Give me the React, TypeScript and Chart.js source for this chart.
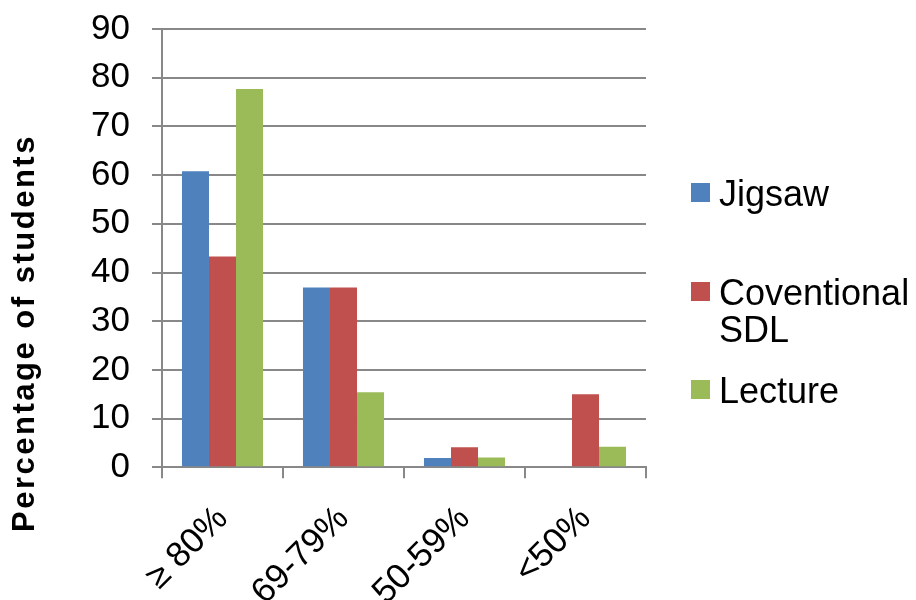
import React, { useEffect, useRef } from "react";
import { Chart, registerables } from "chart.js";

Chart.register(...registerables);

// Score bands and the share of students in each, per teaching method
const categories = ["≥ 80%", "69-79%", "50-59%", "<50%"];
const jigsaw = [60.8, 36.9, 1.9, 0];
const conventionalSdl = [43.3, 36.9, 4.1, 15.0];
const lecture = [77.7, 15.4, 2.0, 4.2];
const seriesLabels = [["Jigsaw"], ["Coventional", "SDL"], ["Lecture"]];
const seriesColors = ["#4F81BD", "#C0504D", "#9BBB59"];
const yTicks = [0, 10, 20, 30, 40, 50, 60, 70, 80, 90];
const yTitle = "Percentage of students";

const FONT = 'Arial, "Liberation Sans", sans-serif';
const GRID = "#888888";

// Draws the rotated y-axis title and the stacked legend to the right of the plot
const sidePlugin = {
  id: "sideDecor",
  afterDraw(chart: Chart) {
    const ctx = chart.ctx;
    const area = chart.chartArea;
    ctx.save();

    // y-axis title
    ctx.save();
    ctx.translate(34, 333);
    ctx.rotate(-Math.PI / 2);
    ctx.font = `bold 31px ${FONT}`;
    (ctx as any).letterSpacing = "2.5px";
    ctx.fillStyle = "#000";
    ctx.textAlign = "center";
    ctx.textBaseline = "alphabetic";
    ctx.fillText(yTitle, 0, 0);
    ctx.restore();

    // legend
    const boxX = area.right + 45;
    const textX = boxX + 28;
    const centers = [192.5, 291.5, 389.5];
    ctx.font = `36px ${FONT}`;
    ctx.textAlign = "left";
    ctx.textBaseline = "alphabetic";
    seriesLabels.forEach((lines, i) => {
      const cy = centers[i];
      ctx.fillStyle = seriesColors[i];
      ctx.fillRect(boxX, cy - 9.5, 19, 19);
      ctx.fillStyle = "#000";
      lines.forEach((line, j) => {
        ctx.fillText(line, textX, cy + 13 + j * 37);
      });
    });
    ctx.restore();
  },
};

export default function App() {
  const canvasRef = useRef<HTMLCanvasElement | null>(null);

  useEffect(() => {
    document.body.style.margin = "0";
    const canvas = canvasRef.current;
    if (!canvas) return;

    const values = [jigsaw, conventionalSdl, lecture];
    const chart = new Chart(canvas, {
      type: "bar",
      data: {
        labels: categories,
        datasets: values.map((data, i) => ({
          label: seriesLabels[i].join(" "),
          data,
          backgroundColor: seriesColors[i],
          borderWidth: 0,
          barPercentage: 1,
          categoryPercentage: 0.67,
        })),
      },
      options: {
        responsive: false,
        animation: false,
        layout: { padding: { left: 0, right: 270, top: 29, bottom: 0 } },
        plugins: {
          legend: { display: false },
          tooltip: { enabled: false },
          title: { display: false },
        },
        scales: {
          x: {
            grid: {
              display: true,
              drawOnChartArea: false,
              drawTicks: true,
              tickLength: 11,
              color: GRID,
              lineWidth: 2,
              offset: true,
            },
            border: { display: true, color: GRID, width: 2 },
            ticks: {
              font: { family: FONT, size: 35 },
              color: "#000",
              minRotation: 45,
              maxRotation: 45,
              padding: 20,
            },
            afterFit(scale: any) {
              scale.height = 132.7;
              scale.paddingLeft = 0;
              scale.paddingRight = 0;
            },
          },
          y: {
            min: 0,
            max: 90,
            afterBuildTicks(scale: any) {
              scale.ticks = yTicks.map((v) => ({ value: v }));
            },
            grid: {
              color: GRID,
              lineWidth: 2,
              drawTicks: true,
              tickLength: 10,
            },
            border: { display: true, color: GRID, width: 2 },
            ticks: {
              font: { family: FONT, size: 35 },
              color: "#000",
              padding: 22,
            },
            afterFit(scale: any) {
              scale.width = 162;
              scale.paddingTop = 0;
              scale.paddingBottom = 0;
            },
          },
        },
      },
      plugins: [sidePlugin],
    });

    return () => chart.destroy();
  }, []);

  return (
    <div style={{ width: 916, height: 600, background: "#fff" }}>
      <canvas ref={canvasRef} width={916} height={600} />
    </div>
  );
}
